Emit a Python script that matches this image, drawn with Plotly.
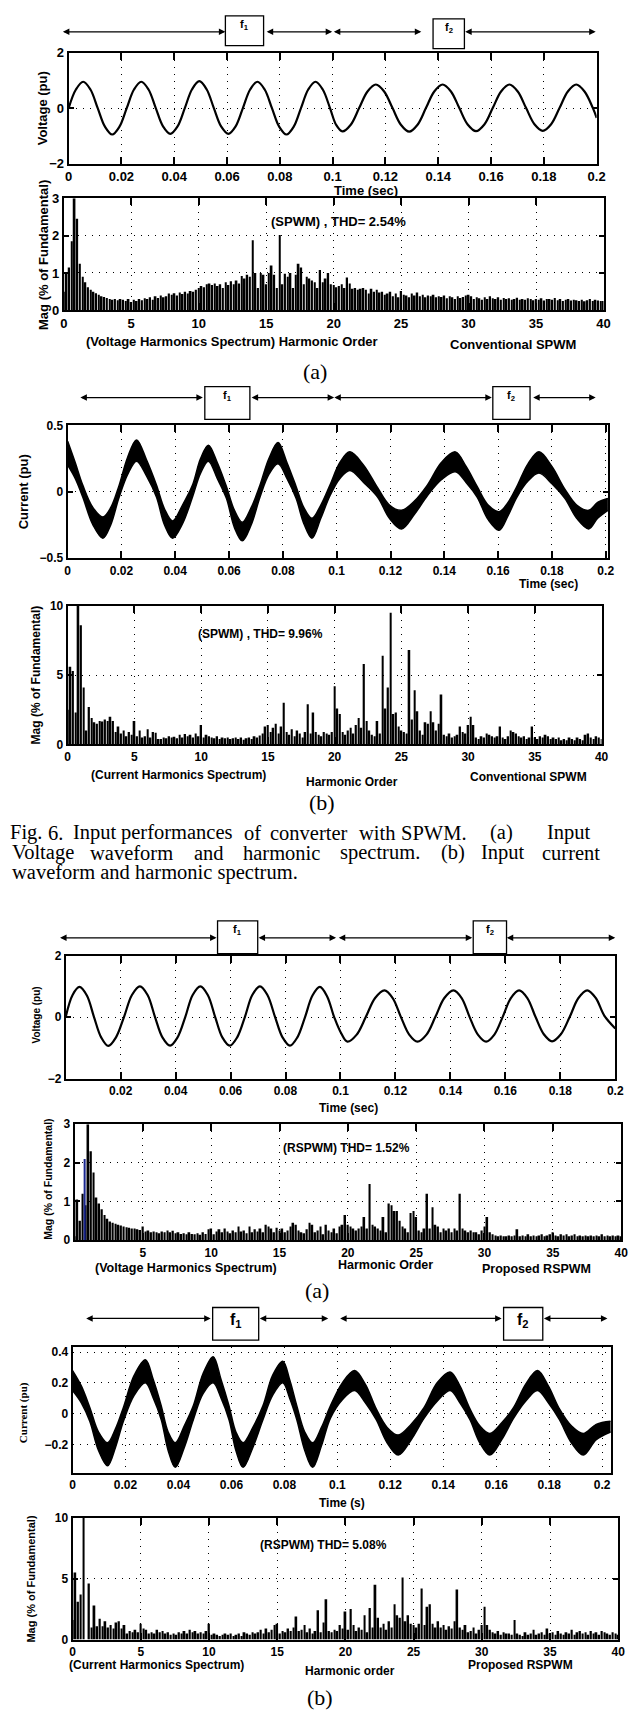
import plotly.graph_objects as go

W, H = 637, 1713

# ---------------- DATA ----------------
# Panel (a) top: conventional SPWM input voltage (key points)
V1_t = [0.0, 0.00275, 0.0055, 0.00825, 0.011, 0.01375, 0.0165, 0.01925, 0.022, 0.02475,
        0.0275, 0.03025, 0.033, 0.03575, 0.0385, 0.04125, 0.044, 0.04675, 0.0495, 0.05225,
        0.055, 0.05775, 0.0605, 0.06325, 0.066, 0.06875, 0.0715, 0.07425, 0.077, 0.07975,
        0.0825, 0.08525, 0.088, 0.09075, 0.0935, 0.09625, 0.099, 0.1013, 0.1037, 0.10686,
        0.11003, 0.11319, 0.11635, 0.11951, 0.12268, 0.12584, 0.129, 0.13216, 0.13533, 0.13849,
        0.14165, 0.14481, 0.14798, 0.15114, 0.1543, 0.15746, 0.16063, 0.16379, 0.16695, 0.17011,
        0.17328, 0.17644, 0.1796, 0.18276, 0.18593, 0.18909, 0.19225, 0.19541, 0.19858, 0.2]
V1_v = [0.0, 0.67, 0.95, 0.67, 0.0, -0.67, -0.95, -0.67, 0.0, 0.67,
        0.95, 0.67, 0.0, -0.66, -0.93, -0.66, 0.0, 0.68, 0.97, 0.68,
        0.0, -0.66, -0.93, -0.66, 0.0, 0.67, 0.95, 0.67, 0.0, -0.67,
        -0.95, -0.67, 0.0, 0.67, 0.95, 0.67, 0.0, -0.6, -0.84, -0.6,
        0.0, 0.6, 0.85, 0.6, 0.0, -0.6, -0.85, -0.6, 0.0, 0.6,
        0.85, 0.6, 0.0, -0.59, -0.83, -0.59, 0.0, 0.6, 0.85, 0.6,
        0.0, -0.58, -0.82, -0.58, 0.0, 0.6, 0.85, 0.6, 0.0, -0.35]

# Harmonic order axis for all spectra
H_order = [round(i * 0.2, 1) for i in range(201)]

S1_mag = [0.5, 1.0, 1.15, 1.85, 3.0, 2.45, 1.25, 0.9, 0.75, 0.62,
          0.55, 0.5, 0.46, 0.42, 0.38, 0.36, 0.33, 0.3, 0.28, 0.3,
          0.27, 0.3, 0.28, 0.25, 0.3, 0.22, 0.28, 0.25, 0.3, 0.27,
          0.32, 0.3, 0.35, 0.28, 0.38, 0.33, 0.4, 0.35, 0.38, 0.45,
          0.42, 0.46, 0.4, 0.48, 0.44, 0.5, 0.45, 0.52, 0.5, 0.55,
          0.6, 0.65, 0.62, 0.7, 0.72, 0.68, 0.72, 0.65, 0.7, 0.6,
          0.75, 0.68, 0.78, 0.7, 0.8, 0.72, 0.92, 0.85, 0.95, 0.9,
          1.88, 1.0, 0.6, 1.0, 0.95, 0.7, 1.0, 1.2, 0.95, 0.6,
          2.02, 0.7, 0.98, 0.9, 1.0, 0.6, 0.95, 1.25, 1.15, 0.7,
          0.9, 0.85, 0.8, 0.75, 0.6, 1.08, 0.75, 0.85, 1.0, 0.7,
          0.68, 0.62, 0.65, 0.7, 0.6, 0.88, 0.72, 0.58, 0.6, 0.55,
          0.58, 0.6, 0.55, 0.45, 0.58, 0.5, 0.55, 0.48, 0.5, 0.42,
          0.45, 0.5, 0.38, 0.45, 0.35, 0.52, 0.42, 0.4, 0.35, 0.45,
          0.4, 0.48, 0.38, 0.42, 0.35, 0.4, 0.38, 0.42, 0.35, 0.38,
          0.36, 0.4, 0.32, 0.38, 0.35, 0.3, 0.38, 0.33, 0.36, 0.4,
          0.42, 0.38, 0.3, 0.35, 0.32, 0.28, 0.35, 0.3, 0.38, 0.32,
          0.3, 0.35, 0.28, 0.33, 0.3, 0.32, 0.28, 0.3, 0.34, 0.28,
          0.3, 0.28, 0.32, 0.3, 0.27, 0.3, 0.28, 0.32, 0.26, 0.3,
          0.3, 0.28, 0.33, 0.27, 0.3, 0.25, 0.28, 0.3, 0.26, 0.28,
          0.27, 0.25, 0.28, 0.24, 0.27, 0.3, 0.25, 0.28, 0.26, 0.25,
          0.25]

# Panel (b) top: conventional SPWM input current band (upper / lower envelope)
I2_t = [0.0, 0.0028, 0.0056, 0.0094, 0.0131, 0.016, 0.019, 0.0223, 0.0256, 0.0293,
        0.033, 0.036, 0.039, 0.0427, 0.0464, 0.0494, 0.0523, 0.0556, 0.059, 0.062,
        0.0649, 0.0682, 0.0715, 0.0748, 0.0782, 0.0815, 0.0849, 0.0878, 0.0908, 0.0941,
        0.0975, 0.1012, 0.1049, 0.11, 0.1152, 0.1196, 0.1241, 0.1289, 0.1337, 0.1389,
        0.1441, 0.1481, 0.1522, 0.1563, 0.1604, 0.1637, 0.167, 0.1711, 0.1752, 0.18,
        0.1848, 0.1892, 0.1937, 0.197, 0.2008]
I2_up = [0.38, 0.22, 0.05, -0.12, -0.19, -0.12, 0.04, 0.26, 0.39, 0.24,
         0.05, -0.13, -0.22, -0.10, 0.05, 0.25, 0.35, 0.22, 0.04, -0.14,
         -0.23, -0.12, 0.05, 0.25, 0.37, 0.22, 0.04, -0.12, -0.20, -0.10,
         0.05, 0.22, 0.30, 0.20, 0.03, -0.10, -0.14, -0.07, 0.05, 0.22,
         0.30, 0.19, 0.04, -0.10, -0.15, -0.08, 0.04, 0.21, 0.30, 0.19,
         0.02, -0.10, -0.14, -0.08, -0.05]
I2_lo = [0.20, 0.10, -0.04, -0.25, -0.35, -0.25, -0.05, 0.13, 0.23, 0.12,
         -0.04, -0.25, -0.35, -0.24, -0.04, 0.14, 0.23, 0.10, -0.05, -0.27,
         -0.37, -0.25, -0.04, 0.13, 0.21, 0.10, -0.05, -0.24, -0.35, -0.20,
         -0.03, 0.10, 0.16, 0.07, -0.04, -0.20, -0.28, -0.17, -0.03, 0.09,
         0.15, 0.07, -0.04, -0.21, -0.29, -0.18, -0.04, 0.08, 0.14, 0.06,
         -0.05, -0.20, -0.28, -0.20, -0.14]

S2_mag = [2.5, 5.6, 5.3, 2.3, 10.0, 8.6, 4.1, 1.0, 2.7, 1.9,
          1.6, 1.5, 1.7, 1.65, 1.8, 1.7, 2.0, 1.7, 0.9, 1.3,
          0.8, 1.0, 0.6, 0.9, 0.7, 1.7, 0.6, 1.0, 0.5, 0.6,
          1.1, 0.5, 0.9, 0.85, 0.4, 0.4, 0.5, 0.45, 0.6, 0.5,
          0.55, 0.45, 0.7, 0.5, 0.75, 0.6, 0.7, 0.5, 0.8, 0.6,
          1.4, 0.5, 0.7, 0.6, 0.5, 0.45, 0.6, 0.4, 0.5, 0.45,
          0.5, 0.4, 0.45, 0.5, 0.4, 0.5, 0.35, 0.45, 0.5, 0.4,
          0.6, 0.5, 0.65, 0.8, 1.3, 1.4, 0.9, 1.2, 1.5, 0.8,
          1.3, 3.0, 0.9, 0.7, 1.1, 0.6, 1.0, 0.8, 0.5, 0.9,
          2.9, 0.8, 2.3, 0.9, 0.7, 0.6, 0.9, 0.8, 0.7, 0.9,
          4.2, 2.6, 2.2, 0.9, 0.7, 1.0, 1.2, 0.8, 1.4, 1.9,
          1.2, 5.8, 1.7, 1.0, 0.7, 0.6, 1.7, 0.8, 6.4, 2.6,
          4.1, 9.5, 2.2, 2.3, 1.3, 1.0, 0.9, 0.8, 6.8, 1.8,
          3.9, 2.4, 1.0, 0.7, 1.6, 1.5, 2.4, 1.6, 1.0, 1.5,
          3.6, 0.7, 0.6, 0.8, 0.5, 0.6, 0.7, 1.3, 0.9, 0.8,
          1.4, 2.0, 1.4, 0.5, 0.4, 0.6, 0.5, 0.8, 0.7, 0.6,
          0.5, 0.6, 1.3, 0.5, 0.4, 0.6, 1.0, 0.9, 0.8, 0.6,
          0.5, 0.6, 0.4, 0.5, 1.3, 0.5, 0.4, 0.6, 0.5, 0.7,
          0.6, 0.4, 0.5, 0.4, 0.5, 0.3, 0.4, 0.3, 0.5, 0.4,
          0.3, 0.5, 0.4, 0.3, 0.7, 0.8, 0.5, 0.4, 0.6, 0.5,
          0.4]

# Proposed RSPWM input voltage
V3_t = [0.0, 0.0025, 0.005, 0.0077, 0.0103, 0.0129, 0.0155, 0.0183, 0.0212, 0.0241,
        0.027, 0.0298, 0.0325, 0.0352, 0.038, 0.0407, 0.0435, 0.0462, 0.049, 0.0517,
        0.0544, 0.057, 0.0597, 0.0624, 0.0652, 0.0679, 0.0707, 0.0734, 0.0762, 0.0789,
        0.0816, 0.0843, 0.0871, 0.0898, 0.0925, 0.0951, 0.0977, 0.1001, 0.1025, 0.1059,
        0.1092, 0.1126, 0.116, 0.119, 0.122, 0.125, 0.128, 0.1313, 0.1345, 0.1378,
        0.1411, 0.1441, 0.147, 0.15, 0.153, 0.156, 0.159, 0.162, 0.165, 0.168,
        0.171, 0.174, 0.177, 0.1802, 0.1834, 0.1866, 0.1898, 0.1929, 0.196, 0.2]
V3_v = [0.0, 0.72, 0.98, 0.7, 0.0, -0.66, -0.94, -0.66, 0.0, 0.72,
        1.0, 0.72, 0.0, -0.66, -0.93, -0.66, 0.0, 0.72, 1.0, 0.72,
        0.0, -0.66, -0.93, -0.66, 0.0, 0.72, 1.0, 0.72, 0.0, -0.66,
        -0.93, -0.66, 0.0, 0.7, 0.98, 0.68, 0.0, -0.5, -0.8, -0.57,
        0.0, 0.62, 0.87, 0.62, 0.0, -0.57, -0.8, -0.57, 0.0, 0.62,
        0.87, 0.62, 0.0, -0.57, -0.8, -0.57, 0.0, 0.62, 0.87, 0.62,
        0.0, -0.56, -0.79, -0.56, 0.0, 0.62, 0.87, 0.62, 0.05, -0.37]

S3_mag = [0.1, 1.05, 0.5, 1.2, 0.9, 3.0, 2.3, 1.75, 1.1, 0.95,
          0.8, 0.65, 0.55, 0.48, 0.45, 0.42, 0.4, 0.38, 0.35, 0.33,
          0.32, 0.3, 0.3, 0.28, 0.26, 0.35, 0.22, 0.25, 0.2, 0.22,
          0.2, 0.18, 0.22, 0.2, 0.25, 0.2, 0.24, 0.18, 0.2, 0.16,
          0.18, 0.15, 0.2, 0.16, 0.15, 0.18, 0.14, 0.2, 0.16, 0.28,
          0.3, 0.15, 0.22, 0.28, 0.2, 0.3, 0.22, 0.18, 0.25, 0.2,
          0.35, 0.22, 0.25, 0.18, 0.35, 0.2, 0.28, 0.22, 0.3, 0.2,
          0.4, 0.35, 0.3, 0.2, 0.32, 0.25, 0.3, 0.2, 0.25, 0.35,
          0.45, 0.4, 0.25, 0.2, 0.18, 0.28, 0.45, 0.4, 0.2, 0.25,
          0.35, 0.15, 0.4, 0.25, 0.2, 0.3, 0.18, 0.35, 0.4, 0.65,
          0.4, 0.35, 0.3, 0.25, 0.3, 0.35, 0.6, 0.3, 1.45, 0.4,
          0.35, 0.3, 0.25, 0.6, 0.2, 0.95, 0.9, 0.75, 0.75, 0.5,
          0.35, 0.3, 0.2, 0.7, 0.75, 0.6, 0.25, 0.2, 0.3, 1.2,
          0.3, 0.85, 0.4, 0.35, 0.2, 0.3, 0.25, 0.3, 0.2, 0.3,
          0.25, 1.2, 0.3, 0.25, 0.2, 0.25, 0.2, 0.2, 0.15, 0.25,
          0.35, 0.6, 0.2, 0.15, 0.12, 0.1, 0.12, 0.1, 0.1, 0.12,
          0.1, 0.12, 0.28, 0.1, 0.12, 0.1, 0.15, 0.1, 0.12, 0.1,
          0.12, 0.15, 0.1, 0.12, 0.15, 0.2, 0.12, 0.1, 0.15, 0.12,
          0.15, 0.1, 0.12, 0.15, 0.1, 0.12, 0.1, 0.12, 0.1, 0.12,
          0.1, 0.12, 0.1, 0.15, 0.1, 0.12, 0.1, 0.12, 0.1, 0.12,
          0.1]
S3_marker_h = [0.74]
S3_marker_v = [2.1]

# Proposed RSPWM input current band
I4_t = [0.0, 0.0033, 0.0065, 0.0098, 0.0132, 0.0162, 0.0192, 0.0233, 0.0275, 0.0305,
        0.0335, 0.0361, 0.0388, 0.0422, 0.0456, 0.0493, 0.0531, 0.0561, 0.0591, 0.0617,
        0.0644, 0.0681, 0.0719, 0.0756, 0.0794, 0.082, 0.0847, 0.0877, 0.0907, 0.094,
        0.0974, 0.1019, 0.1065, 0.1106, 0.1147, 0.1188, 0.123, 0.1279, 0.1328, 0.1377,
        0.1426, 0.1463, 0.1501, 0.1538, 0.1576, 0.1621, 0.1666, 0.1711, 0.1756, 0.1797,
        0.1839, 0.1884, 0.1929, 0.1978, 0.2032]
I4_up = [0.28, 0.18, 0.04, -0.12, -0.19, -0.10, 0.04, 0.25, 0.35, 0.22,
         0.05, -0.12, -0.19, -0.08, 0.05, 0.26, 0.37, 0.22, 0.05, -0.12,
         -0.19, -0.09, 0.05, 0.25, 0.34, 0.22, 0.05, -0.12, -0.19, -0.09,
         0.05, 0.20, 0.28, 0.19, 0.03, -0.09, -0.14, -0.07, 0.04, 0.20,
         0.27, 0.18, 0.03, -0.08, -0.13, -0.06, 0.04, 0.19, 0.28, 0.18,
         0.03, -0.08, -0.13, -0.07, -0.05]
I4_lo = [0.15, 0.07, -0.05, -0.24, -0.34, -0.22, -0.05, 0.12, 0.20, 0.10,
         -0.04, -0.24, -0.35, -0.22, -0.04, 0.13, 0.20, 0.10, -0.04, -0.24,
         -0.35, -0.22, -0.04, 0.12, 0.20, 0.10, -0.04, -0.24, -0.35, -0.21,
         -0.03, 0.09, 0.15, 0.07, -0.04, -0.19, -0.27, -0.17, -0.03, 0.08,
         0.15, 0.07, -0.04, -0.19, -0.27, -0.17, -0.03, 0.08, 0.15, 0.07,
         -0.04, -0.19, -0.27, -0.17, -0.12]

S4_mag = [1.6, 5.5, 3.1, 3.7, 10.0, 0.0, 4.6, 1.0, 2.8, 1.1,
          1.7, 1.1, 1.5, 1.0, 1.2, 0.9, 1.4, 1.5, 0.9, 1.2,
          0.5, 0.7, 0.6, 0.8, 0.6, 1.3, 0.9, 0.8, 0.5, 0.6,
          0.5, 0.8, 0.6, 0.7, 0.5, 0.6, 0.4, 0.5, 0.4, 0.6,
          0.5, 0.7, 0.5, 0.8, 0.6, 0.7, 0.5, 0.6, 0.5, 0.7,
          1.3, 0.4, 0.5, 0.4, 0.3, 0.4, 0.5, 0.4, 0.5, 0.3,
          0.4, 0.5, 0.3, 0.6, 0.5, 0.4, 0.6, 0.5, 0.6, 0.8,
          0.5, 0.9, 0.6, 0.8, 1.2, 1.3, 0.5, 0.7, 0.6, 0.9,
          0.7, 1.0, 1.9, 0.7, 0.8, 1.2, 0.6, 0.9, 0.5, 0.7,
          2.4, 0.6, 1.4, 3.3, 0.7, 0.6, 0.8, 0.7, 1.2, 0.9,
          2.3, 0.8, 2.5, 1.2, 0.7, 1.0, 0.8, 2.0, 0.6, 2.6,
          1.0, 4.5, 1.8, 1.0, 1.3, 0.8, 1.5, 1.0, 2.9, 2.0,
          1.8, 5.1, 1.5, 2.0, 1.3, 1.2, 1.0, 1.3, 4.2, 1.2,
          2.7, 2.9, 1.3, 1.0, 1.5, 1.0, 1.2, 0.8, 1.1, 0.9,
          1.5, 4.1, 1.0, 0.8, 1.2, 0.6, 0.7, 1.0, 0.5, 0.8,
          1.2, 2.7, 1.2, 0.8, 0.6, 0.5, 0.7, 0.4, 0.6, 0.5,
          0.5, 0.4, 1.6, 0.5, 0.4, 0.3, 0.6, 0.4, 0.5, 0.8,
          0.4, 0.5, 0.6, 0.4, 0.9, 0.5, 0.6, 0.4, 0.7, 0.5,
          0.4, 0.6, 0.5, 0.8, 0.4, 0.6, 0.7, 0.5, 0.6, 0.4,
          0.7, 0.5, 0.6, 0.4, 0.7, 0.6, 0.5, 0.4, 0.6, 0.5,
          0.4]

TIME_TICKS = [0, 0.02, 0.04, 0.06, 0.08, 0.1, 0.12, 0.14, 0.16, 0.18, 0.2]
TIME_LABELS = ["0", "0.02", "0.04", "0.06", "0.08", "0.1", "0.12", "0.14", "0.16", "0.18", "0.2"]
HARM_TICKS = [0, 5, 10, 15, 20, 25, 30, 35, 40]

# ---------------- FIGURE ----------------
SANS = "Liberation Sans, Arial, sans-serif"
SERIF = "Liberation Serif, Times New Roman, serif"


def px(x):
    return x / W


def py(y):
    return 1 - y / H


fig = go.Figure()


def axstyle(**kw):
    base = dict(showline=True, linecolor="black", linewidth=2, mirror="ticks",
                ticks="inside", tickcolor="black", ticklen=7, tickwidth=1.5,
                showgrid=True, gridcolor="black", griddash="1px,6px", gridwidth=1,
                zeroline=False, fixedrange=True,
                tickfont=dict(family=SANS, size=12, color="black", weight="bold"))
    base.update(kw)
    return base


panels = {
    1: ((66, 605), (46, 158)),
    2: ((61, 612), (193, 306)),
    3: ((65, 617), (422, 556)),
    4: ((65, 610), (604, 744)),
    5: ((63, 624), (957, 1081)),
    6: ((72, 630), (1127, 1244)),
    7: ((70, 620), (1352, 1479)),
    8: ((70, 627), (1524, 1647)),
}

xsettings = {
    1: dict(range=[0, 0.2], tickvals=TIME_TICKS, ticktext=TIME_LABELS,
            tickfont=dict(family=SANS, size=13, color="black", weight="bold")),
    2: dict(range=[0, 40], tickvals=HARM_TICKS,
            tickfont=dict(family=SANS, size=13, color="black", weight="bold")),
    3: dict(range=[0, 0.201], tickvals=TIME_TICKS, ticktext=TIME_LABELS),
    4: dict(range=[0, 40], tickvals=HARM_TICKS),
    5: dict(range=[0, 0.2], tickvals=TIME_TICKS[1:], ticktext=TIME_LABELS[1:]),
    6: dict(range=[0, 40], tickvals=HARM_TICKS[1:]),
    7: dict(range=[0, 0.2035], tickvals=TIME_TICKS, ticktext=TIME_LABELS, ticks=""),
    8: dict(range=[0, 40], tickvals=HARM_TICKS),
}
ysettings = {
    1: dict(range=[-2, 2], tickvals=[-2, 0, 2], ticklen=5,
            tickfont=dict(family=SANS, size=13, color="black", weight="bold")),
    2: dict(range=[0, 3], tickvals=[0, 1, 2, 3], ticklen=5,
            tickfont=dict(family=SANS, size=13, color="black", weight="bold")),
    3: dict(range=[-0.5, 0.5], tickvals=[-0.5, 0, 0.5], ticklen=5),
    4: dict(range=[0, 10], tickvals=[0, 5, 10], ticklen=5),
    5: dict(range=[-2, 2], tickvals=[-2, 0, 2], ticklen=5),
    6: dict(range=[0, 3], tickvals=[0, 1, 2, 3], ticklen=5),
    7: dict(range=[-0.387, 0.432], tickvals=[-0.2, 0, 0.2, 0.4], ticks=""),
    8: dict(range=[0, 10], tickvals=[0, 5, 10], ticklen=5),
}

layout_axes = {}
for i, ((x0, x1), (y0, y1)) in panels.items():
    xk = "xaxis" if i == 1 else f"xaxis{i}"
    yk = "yaxis" if i == 1 else f"yaxis{i}"
    anc_y = "y" if i == 1 else f"y{i}"
    anc_x = "x" if i == 1 else f"x{i}"
    layout_axes[xk] = axstyle(domain=[px(x0), px(x1)], anchor=anc_y, **xsettings[i])
    layout_axes[yk] = axstyle(domain=[py(y1), py(y0)], anchor=anc_x, **ysettings[i])


def ax(i):
    return ("x", "y") if i == 1 else (f"x{i}", f"y{i}")


# waveforms
for i, (t, v) in {1: (V1_t, V1_v), 5: (V3_t, V3_v)}.items():
    xa, ya = ax(i)
    fig.add_trace(go.Scatter(x=t, y=v, mode="lines", xaxis=xa, yaxis=ya,
                             line=dict(color="black", width=2.2, shape="spline")))

for i, (t, up, lo) in {3: (I2_t, I2_up, I2_lo), 7: (I4_t, I4_up, I4_lo)}.items():
    xa, ya = ax(i)
    fig.add_trace(go.Scatter(x=t, y=lo, mode="lines", xaxis=xa, yaxis=ya,
                             line=dict(color="black", width=1.5, shape="spline")))
    fig.add_trace(go.Scatter(x=t, y=up, mode="lines", xaxis=xa, yaxis=ya, fill="tonexty",
                             fillcolor="black",
                             line=dict(color="black", width=1.5, shape="spline")))

# spectra
for i, mag in {2: S1_mag, 4: S2_mag, 6: S3_mag, 8: S4_mag}.items():
    xa, ya = ax(i)
    fig.add_trace(go.Bar(x=H_order, y=mag, width=0.13, xaxis=xa, yaxis=ya,
                         marker=dict(color="black", line=dict(width=0))))
xa, ya = ax(6)
for hh, vv in zip(S3_marker_h, S3_marker_v):
    fig.add_trace(go.Scatter(x=[hh, hh], y=[0, vv], mode="lines", xaxis=xa, yaxis=ya,
                             line=dict(color="#1a2790", width=2)))


def txt(x, y, s, size=12, bold=True, family=SANS, angle=0, xanchor="center"):
    fig.add_annotation(x=px(x), y=py(y), xref="paper", yref="paper", text=s,
                       showarrow=False, textangle=angle, xanchor=xanchor, yanchor="middle",
                       font=dict(family=family, size=size, color="black",
                                 weight="bold" if bold else "normal"))


def arrow(x0, x1, y):
    fig.add_annotation(x=px(x1), y=py(y), xref="paper", yref="paper", ax=-(x1 - x0), ay=0,
                       text="", showarrow=True, arrowhead=2, arrowside="end+start",
                       arrowsize=1, arrowwidth=1.3, arrowcolor="black")


shapes = []


def fbox(x0, x1, y0, y1, label, size=11):
    shapes.append(dict(type="rect", xref="paper", yref="paper", x0=px(x0), x1=px(x1),
                       y0=py(y1), y1=py(y0), line=dict(color="black", width=1.3),
                       fillcolor="white", layer="above"))
    txt((x0 + x1) / 2, y0 + size * 0.85, label, size=size)


# frequency markers
for (segs, yy) in [([(62, 226), (268, 335), (337, 426), (472, 604)], 25),
                   ([(79, 203), (253, 337), (339, 498), (540, 604)], 394),
                   ([(59, 217), (260, 339), (343, 478), (514, 624)], 939),
                   ([(85, 211), (261, 331), (345, 508), (551, 616)], 1323)]:
    for a, b in segs:
        arrow(a, b, yy)

fbox(226, 265, 9, 39, "f<sub>1</sub>")
fbox(438, 470, 12, 42, "f<sub>2</sub>")
fbox(205, 251, 383, 416, "f<sub>1</sub>")
fbox(499, 537, 383, 416, "f<sub>2</sub>")
fbox(218, 259, 922, 955, "f<sub>1</sub>")
fbox(479, 513, 922, 955, "f<sub>2</sub>")
fbox(213, 260, 1312, 1345, "f<sub>1</sub>", size=16)
fbox(510, 550, 1312, 1345, "f<sub>2</sub>", size=16)

# texts: Fig 6 (a)
txt(39, 102, "Voltage (pu)", 13, angle=-90)
txt(370, 185, "Time (sec)", 13)
txt(41, 250, "Mag (% of Fundamental)", 13, angle=-90)
txt(341, 216, "(SPWM) , THD= 2.54%", 13)
txt(233, 337, "(Voltage Harmonics Spectrum) Harmonic Order", 13)
txt(520, 340, "Conventional SPWM", 13)
txt(317, 368, "(a)", 22, bold=False, family=SERIF)
# Fig 6 (b)
txt(20, 489, "Current (pu)", 13, angle=-90)
txt(556, 582, "Time (sec)", 12)
txt(33, 674, "Mag (% of Fundamental)", 12, angle=-90)
txt(262, 633, "(SPWM) , THD= 9.96%", 12)
txt(178, 775, "(Current Harmonics Spectrum)", 12)
txt(355, 782, "Harmonic Order", 12)
txt(535, 777, "Conventional SPWM", 12)
txt(325, 803, "(b)", 22, bold=False, family=SERIF)

# caption (justified lines, placed word by word)
cap1 = [("Fig.", 4), ("6.", 43), ("Input", 68), ("performances", 117), ("of", 243),
        ("converter", 270), ("with", 360), ("SPWM.", 403), ("(a)", 494), ("Input", 552)]
cap2 = [("Voltage", 6), ("waveform", 86), ("and", 192), ("harmonic", 242), ("spectrum.", 341),
        ("(b)", 444), ("Input", 485), ("current", 547)]
for w, xx in cap1:
    txt(xx, 833, w, 20.5, bold=False, family=SERIF, xanchor="left")
for w, xx in cap2:
    txt(xx, 853, w, 20.5, bold=False, family=SERIF, xanchor="left")
txt(6, 873, "waveform and harmonic spectrum.", 20.5, bold=False, family=SERIF, xanchor="left")

# proposed (a)
txt(33, 1017, "Voltage (pu)", 10, angle=-90)
txt(352, 1111, "Time (sec)", 12)
txt(45, 1183, "Mag (% of Fundamental)", 10.5, angle=-90)
txt(350, 1151, "(RSPWM) THD= 1.52%", 12)
txt(186, 1272, "(Voltage Harmonics Spectrum)", 12.5)
txt(389, 1269, "Harmonic Order", 12.5)
txt(544, 1273, "Proposed RSPWM", 12.5)
txt(320, 1295, "(a)", 22, bold=False, family=SERIF)
# proposed (b)
txt(20, 1418, "Current (pu)", 11, family=SERIF, angle=-90)
txt(345, 1509, "Time (s)", 12)
txt(28, 1586, "Mag (% of Fundamental)", 11, angle=-90)
txt(326, 1552, "(RSPWM) THD= 5.08%", 12)
txt(156, 1673, "(Current Harmonics Spectrum)", 12)
txt(353, 1679, "Harmonic order", 12)
txt(527, 1673, "Proposed RSPWM", 12)
txt(323, 1705, "(b)", 22, bold=False, family=SERIF)

fig.update_layout(width=W, height=H, autosize=False, margin=dict(l=0, r=0, t=0, b=0),
                  paper_bgcolor="white", plot_bgcolor="white", showlegend=False,
                  shapes=shapes, **layout_axes)

fig.write_html("out.html")
